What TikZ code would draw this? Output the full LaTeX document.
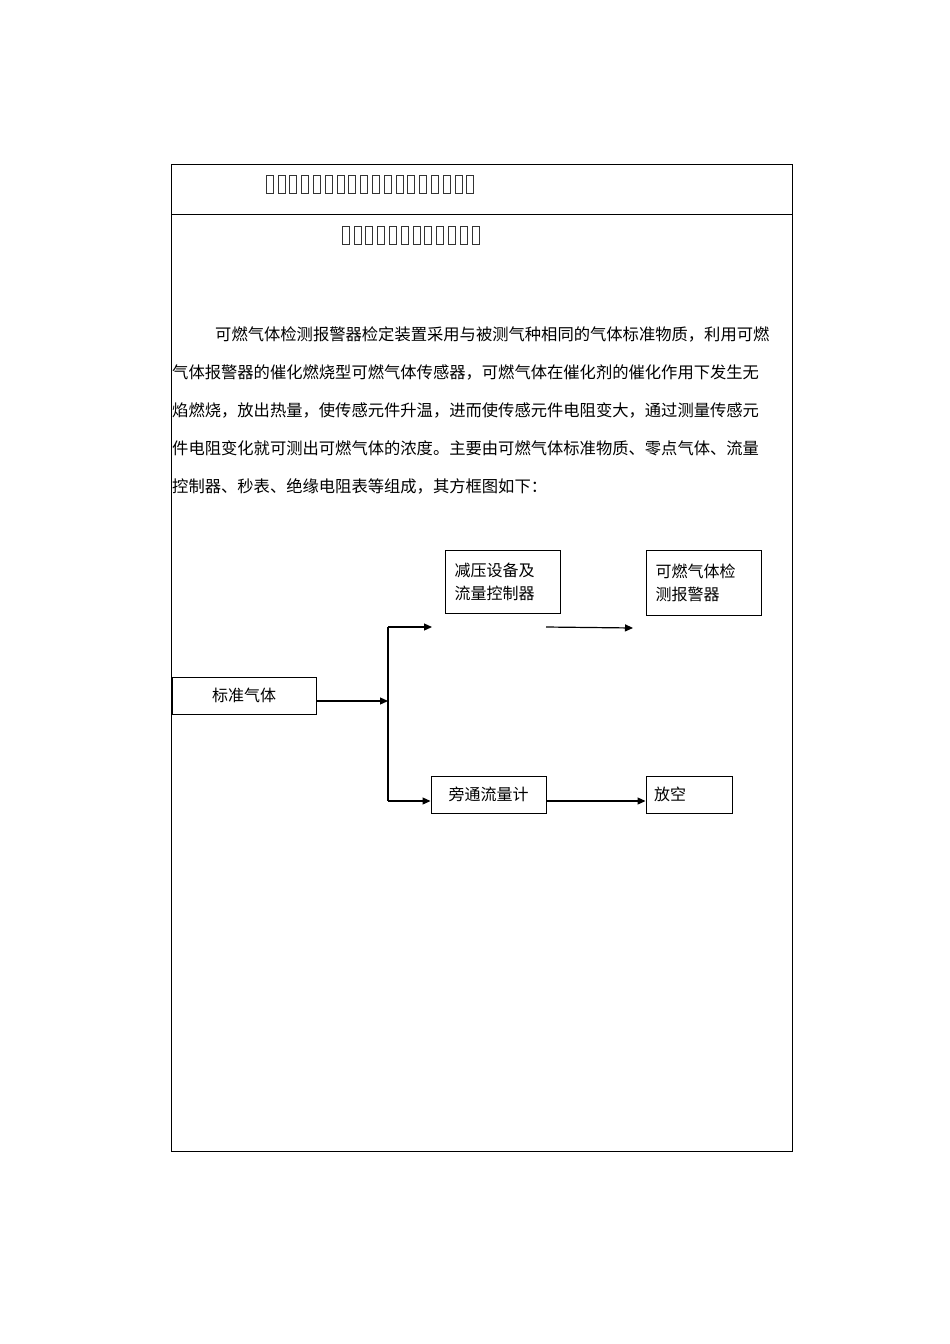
\documentclass[tikz,border=0pt]{standalone}
\usepackage{fontspec}
\setmainfont{Noto Sans CJK SC}
\usetikzlibrary{arrows.meta}
\begin{document}
\begin{tikzpicture}[x=1pt,y=-1pt,
  box/.style={draw,line width=1pt,inner sep=0pt,align=left,font=\fontsize{16}{23}\selectfont},
  para/.style={anchor=west,inner sep=0pt,font=\fontsize{16.3}{20}\selectfont},
  arr/.style={line width=1.2pt,-{Triangle[length=8pt,width=7pt]}},
  tofu/.style={draw=black!80,line width=0.5pt}]
\useasboundingbox (0,0) rectangle (950,1344);
\draw[line width=0.8pt] (171,164) rectangle (792,1151);
\draw[line width=0.8pt] (171,214) -- (792,214);
\foreach \i in {0,...,17} \draw[tofu] (266+\i*11.8,175) rectangle +(7,18);
\foreach \i in {0,...,11} \draw[tofu] (342+\i*11.8,226) rectangle +(7,18);
\node[para] (l1) at (215,334) {可燃气体检测报警器检定装置采用与被测气种相同的气体标准物质，利用可燃};
\node[para] (l2) at (172,372) {气体报警器的催化燃烧型可燃气体传感器，可燃气体在催化剂的催化作用下发生无};
\node[para] (l3) at (172,410) {焰燃烧，放出热量，使传感元件升温，进而使传感元件电阻变大，通过测量传感元};
\node[para] (l4) at (172,448) {件电阻变化就可测出可燃气体的浓度。主要由可燃气体标准物质、零点气体、流量};
\node[para] (l5) at (172,486) {控制器、秒表、绝缘电阻表等组成，其方框图如下：};
\node[box,minimum width=144pt,minimum height=37pt,align=center] (std) at (244,695.5) {标准气体};
\node[box,minimum width=115pt,minimum height=63pt,text width=96pt] (jy) at (502.5,581.5) {减压设备及\\流量控制器};
\node[box,minimum width=115pt,minimum height=65pt,text width=96pt] (kr) at (703.5,582.5) {可燃气体检\\测报警器};
\node[box,minimum width=115pt,minimum height=37pt,align=center] (pt) at (488.5,794.5) {旁通流量计};
\node[box,minimum width=86pt,minimum height=37pt,text width=70pt] (fk) at (689,794.5) {放空};
\coordinate (j) at (388,701);
\coordinate (t) at (388,627);
\coordinate (b) at (388,801);
\coordinate (ta) at (432,627);
\coordinate (s1) at (546,627);
\coordinate (s2) at (633,628);
\draw[arr] (std.east |- j) -- (j);
\draw[line width=1.2pt] (t) -- (b);
\draw[arr] (t) -- (ta);
\draw[arr] (b) -- (pt.west |- b);
\draw[arr] (s1) -- (s2);
\draw[arr] (pt.east |- b) -- (fk.west |- b);
\end{tikzpicture}
\end{document}
